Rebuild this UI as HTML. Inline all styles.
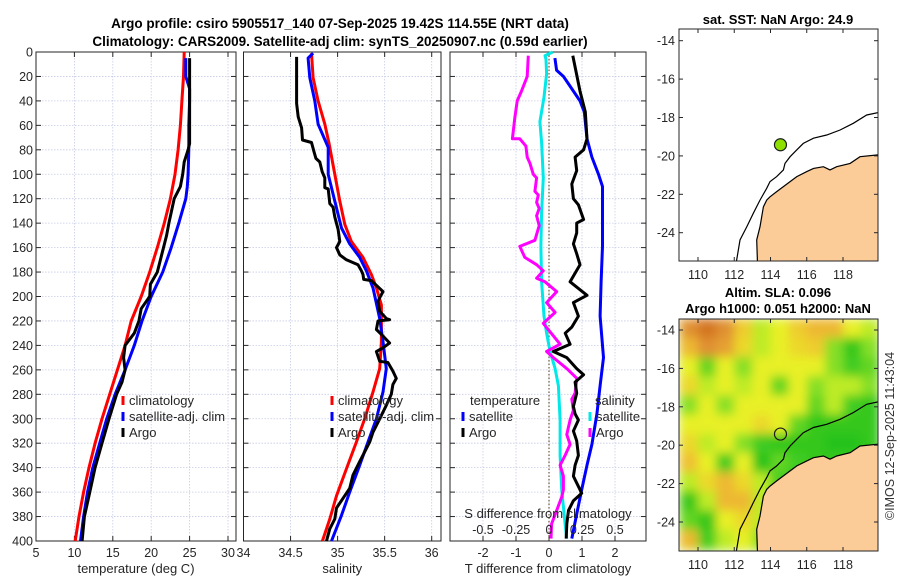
<!DOCTYPE html>
<html><head><meta charset="utf-8"><style>
html,body{margin:0;padding:0;background:#fff;}
svg{display:block;font-family:"Liberation Sans",sans-serif;}
</style></head><body>
<svg id="fig" width="900" height="580" viewBox="0 0 900 580" xmlns="http://www.w3.org/2000/svg">
<defs><filter id="blur" x="0" y="0" width="1" height="1"><feGaussianBlur stdDeviation="5"/></filter>
<clipPath id="clipMapB"><rect x="679" y="319" width="199" height="232"/></clipPath>
<clipPath id="clipMapA"><rect x="679" y="29" width="199" height="232"/></clipPath></defs>
<text x="340" y="28" text-anchor="middle" font-size="13.5" font-weight="bold">Argo profile: csiro 5905517_140 07-Sep-2025 19.42S 114.55E (NRT data)</text>
<text x="340" y="46" text-anchor="middle" font-size="13.5" font-weight="bold">Climatology: CARS2009. Satellite-adj clim: synTS_20250907.nc (0.59d earlier)</text>
<text x="778" y="24" text-anchor="middle" font-size="13" font-weight="bold">sat. SST: NaN Argo: 24.9</text>
<text x="778" y="297" text-anchor="middle" font-size="13" font-weight="bold">Altim. SLA: 0.096</text>
<text x="778" y="313" text-anchor="middle" font-size="13" font-weight="bold">Argo h1000: 0.051 h2000: NaN</text>
<text transform="translate(894,436) rotate(-90)" text-anchor="middle" font-size="12.5" fill="#333">©IMOS 12-Sep-2025 11:43:04</text>
<g id="layer"></g>
</svg>
<script>
// depth axis
const depthTicks=[0,20,40,60,80,100,120,140,160,180,200,220,240,260,280,300,320,340,360,380,400];
// temperature panel
const tTicks=[5,10,15,20,25,30];
const climTd=[0,20,40,60,80,100,120,140,160,180,200,220,240,260,280,300,320,340,360,380,400];
const climT=[24.3,24.2,24.0,23.8,23.5,23.1,22.5,21.7,20.8,19.8,18.7,17.4,16.6,15.6,14.6,13.6,12.7,11.9,11.2,10.6,10.1];
const satTd=[5,20,30,40,60,80,100,110,120,140,160,180,200,220,240,260,280,300,320,340,360,380,400];
const satT=[24.5,24.5,25.0,25.0,24.9,24.9,24.8,24.7,24.5,23.6,22.6,21.5,20.0,18.8,17.8,16.6,15.3,14.2,13.3,12.4,11.7,11.2,10.8];
const argoTd=[5,20,40,60,75,80,90,100,110,120,140,150,160,180,190,200,210,220,230,240,250,260,270,280,300,320,340,360,380,400];
const argoT=[25.0,25.0,25.0,25.0,25.0,24.8,24.3,24.1,23.8,23.0,22.3,22.0,21.6,20.8,19.9,19.8,18.7,18.4,17.8,16.6,16.4,16.6,16.2,15.5,14.5,13.6,12.7,12.0,11.3,11.0];
// salinity panel
const sTicks=[34,34.5,35,35.5,36];
const climSd=[1,21,40,59,75,100,122,141,155,168,182,193,207,237,259,278,300,319,341,363,382,400];
const climS=[34.723,34.740,34.793,34.864,34.910,34.970,35.023,35.076,35.147,35.270,35.359,35.412,35.465,35.465,35.447,35.376,35.288,35.2,35.094,34.988,34.917,34.839];
const satSd=[1,5,21,40,59,78,100,122,144,157,168,179,193,218,237,259,278,300,319,338,360,379,400];
const satS=[34.740,34.687,34.705,34.758,34.793,34.9,34.9,34.97,35.041,35.129,35.235,35.306,35.376,35.447,35.482,35.518,35.482,35.412,35.323,35.235,35.129,35.041,34.935];
const argoSd=[4,42,53,62,72,74,81,87,90,98,103,111,112,124,127,135,145,155,160,166,170,174,179,182,186,187,196,201,204,212,218,219,220,227,231,238,242,245,253,254,261,267,272,280,289,300,311,319,327,335,346,357,365,373,382,390,400];
const argoS=[34.564,34.564,34.581,34.617,34.627,34.723,34.747,34.769,34.811,34.836,34.864,34.864,34.9,34.917,34.952,34.97,35.005,35.023,34.988,35.023,35.094,35.217,35.253,35.27,35.277,35.359,35.482,35.447,35.429,35.447,35.518,35.553,35.429,35.412,35.465,35.553,35.482,35.412,35.447,35.535,35.588,35.624,35.588,35.571,35.518,35.447,35.376,35.341,35.288,35.235,35.164,35.129,35.058,34.988,34.97,34.917,34.882];
// difference panel
const dTicks=[-2,-1,0,1,2];
const sdTicks=[-0.5,-0.25,0,0.25,0.5];
const sdTickLabels=["-0.5","-0.25","0","0.25","0.5"];
const satDTd=[5,15,20,32,40,49,71,86,100,110,159,188,216,250,273,296,321,338,358,378,398];
const satDT=[0.18,0.23,0.44,0.74,0.94,1.07,1.15,1.30,1.50,1.62,1.62,1.58,1.55,1.65,1.55,1.45,1.30,1.15,0.99,0.84,0.69];
const argoDTd=[3,32,49,71,80,86,97,108,120,125,137,140,148,157,165,174,188,199,205,216,225,230,239,245,250,259,264,270,279,290,296,301,310,318,330,338,347,358,361,367,375,386,398];
const argoDT=[0.72,0.94,1.10,1.15,1.05,0.79,0.84,0.69,0.74,0.89,1.05,0.84,0.84,0.74,0.84,0.94,0.64,1.15,0.74,0.89,0.69,0.49,0.64,0.13,0.54,0.84,1.05,0.79,0.84,0.74,0.79,0.89,0.74,0.84,0.89,0.79,0.74,0.94,0.99,0.74,0.59,0.54,0.52];
const satDSd=[0,3,6,18,37,57,74,103,131,159,188,216,230,245,259,273,301,330,358,386,398];
const satDS=[0.028,-0.03,-0.023,-0.018,-0.038,-0.069,-0.056,-0.043,-0.056,-0.061,-0.056,-0.038,-0.018,0.008,0.046,0.071,0.084,0.084,0.096,0.122,0.134];
const argoDSd=[3,20,32,40,54,71,71,77,86,91,100,103,114,117,123,128,134,142,154,159,168,174,179,185,188,196,205,213,222,239,245,250,259,267,279,284,293,301,307,313,321,330,338,347,358,364,375,386,398];
const argoDS=[-0.157,-0.165,-0.208,-0.241,-0.259,-0.277,-0.221,-0.175,-0.165,-0.145,-0.119,-0.094,-0.107,-0.081,-0.094,-0.074,-0.094,-0.074,-0.107,-0.221,-0.183,-0.094,-0.043,-0.094,-0.030,0.058,-0.018,0.046,-0.043,0.084,-0.018,0.033,0.135,0.211,0.198,0.173,0.185,0.160,0.147,0.135,0.160,0.122,0.084,0.109,0.109,0.096,0.058,0.020,0.015];
// maps
const lonTicks=[110,112,114,116,118];
const latTicks=[-14,-16,-18,-20,-22,-24];
const argoLon=114.55, argoLat=-19.42;
const landLon=[119.93,118.94,118.39,117.65,117.28,116.92,116.37,116.0,115.45,115.08,114.71,114.34,113.97,113.79,113.61,113.42,113.24,113.28,120.2,120.2];
const landLat=[-19.95,-20.04,-20.39,-20.56,-20.73,-20.56,-20.65,-20.82,-21.08,-21.34,-21.6,-21.86,-22.13,-22.3,-22.65,-23.69,-24.38,-25.6,-25.6,-19.95];
const shelfLon=[120.0,119.31,118.57,117.84,117.1,116.37,115.81,115.44,115.08,114.8,114.71,114.34,113.97,113.79,113.42,113.05,112.69,112.32,112.1];
const shelfLat=[-17.73,-17.87,-18.3,-18.65,-18.91,-19.08,-19.35,-19.7,-20.04,-20.39,-20.73,-21.08,-21.34,-21.69,-22.3,-22.99,-23.69,-24.38,-25.6];
const slaLon=[109.5,110.5,111.5,112.5,113.5,114.5,115.5,116.5,117.5,118.5,119.5];
const slaLat=[-13.9,-14.9,-15.9,-16.9,-17.9,-18.9,-19.9,-20.9,-21.9,-22.9,-23.9,-24.9];
const slaRow0=[0.2,0.25,0.2,0.13,0.08,0.1,0.13,0.15,0.15,0.1,0.08];
const slaRow1=[0.15,0.2,0.18,0.12,0.08,0.1,0.12,0.13,0.06,0.03,0.06];
const slaRow2=[0.1,0.05,0.1,0.06,0.1,0.1,0.1,0.1,0.06,0.04,0.05];
const slaRow3=[0.12,0.08,0.1,0.08,0.1,0.05,0.1,0.06,0.08,0.08,0.06];
const slaRow4=[0.06,0.1,0.06,0.1,0.1,0.1,0.1,0.05,0.08,0.04,0.03];
const slaRow5=[0.1,0.1,0.1,0.1,0.12,0.1,0.05,0.03,0.03,0.03,0.03];
const slaRow6=[0.12,0.08,0.1,0.06,0.04,0.03,0.03,0.03,0.02,0.02,0.03];
const slaRow7=[0.14,0.1,0.04,0.1,0.02,0.05,0.04,0.03,0.03,0.03,0.03];
const slaRow8=[0.08,0.12,0.15,0.12,0.08,0.04,0.03,0.03,0.03,0.03,0.03];
const slaRow9=[0.03,0.08,0.15,0.15,0.08,0.03,0.03,0.03,0.03,0.03,0.03];
const slaRow10=[0.05,0.03,0.1,0.12,0.08,0.03,0.03,0.03,0.03,0.03,0.03];
const slaRow11=[0.15,0.04,0.08,0.1,0.06,0.03,0.03,0.03,0.03,0.03,0.03];
const slaRows=[slaRow0,slaRow1,slaRow2,slaRow3,slaRow4,slaRow5,slaRow6,slaRow7,slaRow8,slaRow9,slaRow10,slaRow11];

const NS='http://www.w3.org/2000/svg';
const layer=document.getElementById('layer');
function mk(tag,attrs,parent){const e=document.createElementNS(NS,tag);for(const k in attrs)e.setAttribute(k,attrs[k]);(parent||layer).appendChild(e);return e;}
const yTop=52,yBot=541;
const yD=d=>yTop+d/400*(yBot-yTop);
function linX(v0,p0,v1,p1){return v=>p0+(v-v0)/(v1-v0)*(p1-p0);}

function panel(name,L,R,xs,ticks,tickLabels,showY,xlabel){
  const g=mk('g',{});
  
  
  // grid
  depthTicks.forEach(d=>{mk('line',{x1:L,x2:R,y1:yD(d),y2:yD(d),stroke:'#c6cce6','stroke-width':0.8,'stroke-dasharray':'1.5,1.5'},g);});
  ticks.forEach(t=>{mk('line',{x1:xs(t),x2:xs(t),y1:yTop,y2:yBot,stroke:'#c6cce6','stroke-width':0.8,'stroke-dasharray':'1.5,1.5'},g);});
  mk('rect',{x:L,y:yTop,width:R-L,height:yBot-yTop,fill:'none',stroke:'#262626','stroke-width':1},g);
  depthTicks.forEach(d=>{
    mk('line',{x1:L,x2:L+5,y1:yD(d),y2:yD(d),stroke:'#262626'},g);
    mk('line',{x1:R-5,x2:R,y1:yD(d),y2:yD(d),stroke:'#262626'},g);
    if(showY){const t=mk('text',{x:L-3,y:yD(d)+4.5,'text-anchor':'end','font-size':12.5,fill:'#262626'},g);t.textContent=d;
      
      }
  });
  ticks.forEach((v,i)=>{
    mk('line',{x1:xs(v),x2:xs(v),y1:yBot,y2:yBot-5,stroke:'#262626'},g);
    mk('line',{x1:xs(v),x2:xs(v),y1:yTop,y2:yTop+5,stroke:'#262626'},g);
    const t=mk('text',{x:xs(v),y:557,'text-anchor':'middle','font-size':12.5,fill:'#262626'},g);t.textContent=tickLabels[i];
    
    
  });
  const xl=mk('text',{x:(L+R)/2,y:573,'text-anchor':'middle','font-size':13,fill:'#262626'},g);xl.textContent=xlabel;
  
  
  return g;
}
function line(g,xs,vals,ds,color,name,sw){
  const pts=vals.map((v,i)=>xs(v).toFixed(1)+','+yD(ds[i]).toFixed(1)).join(' ');
  const p=mk('polyline',{points:pts,fill:'none',stroke:color,'stroke-width':sw||3,'stroke-linejoin':'round'},g);
  
  
}
function legend(g,x,y,color,label){
  mk('rect',{x:x-1.5,y:y-9,width:3,height:9,fill:color},g);
  const t=mk('text',{x:x+6,y:y,'font-size':13,fill:'#262626'},g);t.textContent=label;
  
  
}
// panel 1
const xT=linX(5,36,30,228);
const g1=panel('temperature',36,236,xT,tTicks,tTicks.map(String),true,'temperature (deg C)');
line(g1,xT,climT,climTd,'#ff0000','climatology-temperature-line');
line(g1,xT,satT,satTd,'#0000ff','satellite-temperature-line');
line(g1,xT,argoT,argoTd,'#000000','argo-temperature-line');
legend(g1,123,405,'#ff0000','climatology');legend(g1,123,421,'#0000ff','satellite-adj. clim');legend(g1,123,437,'#000000','Argo');
// panel 2
const xS=linX(34,243.5,36,431.7);
const g2=panel('salinity',243.5,441,xS,sTicks,sTicks.map(String),false,'salinity');
line(g2,xS,climS,climSd,'#ff0000','climatology-salinity-line');
line(g2,xS,satS,satSd,'#0000ff','satellite-salinity-line');
line(g2,xS,argoS,argoSd,'#000000','argo-salinity-line');
legend(g2,332,405,'#ff0000','climatology');legend(g2,332,421,'#0000ff','satellite-adj. clim');legend(g2,332,437,'#000000','Argo');
// panel 3
const xD=linX(0,549,1,582);
const xSD=v=>xD(v*4);
const g3=panel('difference',450,646,xD,dTicks,dTicks.map(String),false,'T difference from climatology');
mk('line',{x1:xD(0),x2:xD(0),y1:yTop,y2:yBot,stroke:'#6b5a3a','stroke-width':1.2,'stroke-dasharray':'1.5,2'},g3);
line(g3,xD,satDT,satDTd,'#0000ff','satellite-temperature-diff-line');
line(g3,xSD,satDS,satDSd,'#00e8e8','satellite-salinity-diff-line');
line(g3,xSD,argoDS,argoDSd,'#ff00ff','argo-salinity-diff-line');
line(g3,xD,argoDT,argoDTd,'#000000','argo-temperature-diff-line');
{const t=mk('text',{x:470,y:405,'font-size':13,fill:'#262626'},g3);t.textContent='temperature';

}
{const t=mk('text',{x:595,y:405,'font-size':13,fill:'#262626'},g3);t.textContent='salinity';

}
legend(g3,463,421,'#0000ff','satellite');legend(g3,463,437,'#000000','Argo');
legend(g3,590,421,'#00e8e8','satellite');legend(g3,590,437,'#ff00ff','Argo');
{const t=mk('text',{x:548,y:518,'text-anchor':'middle','font-size':13,fill:'#262626'},g3);t.textContent='S difference from climatology';

}
sdTicks.forEach((v,i)=>{const t=mk('text',{x:xSD(v),y:534,'text-anchor':'middle','font-size':12.5,fill:'#262626'},g3);t.textContent=sdTickLabels[i];

});

// maps
const mLon=linX(110,698,118,843);
function mapFrame(name,top,latY,clip,fillSea){
  const g=mk('g',{});
  
  
  const inner=mk('g',{'clip-path':'url(#'+clip+')'},g);
  if(fillSea){
    const hm=mk('g',{filter:'url(#blur)'},inner);
    mk('rect',{x:679,y:top,width:199,height:232,fill:'#c8ee30'},hm);
    slaRows.forEach((row,r)=>row.forEach((v,c)=>{
      const x0=mLon(slaLon[c]-0.5),x1=mLon(slaLon[c]+0.5),y0=latY(slaLat[r]+0.5),y1=latY(slaLat[r]-0.5);
      const cell=mk('rect',{x:x0.toFixed(1),y:y0.toFixed(1),width:(x1-x0+0.5).toFixed(1),height:(y1-y0+0.5).toFixed(1),fill:slaColor(v)},hm);
      
      
    }));
  }
  const land=mk('polygon',{points:landLon.map((lo,i)=>mLon(lo).toFixed(1)+','+latY(landLat[i]).toFixed(1)).join(' '),fill:'#fbcb98',stroke:'#000','stroke-width':1.2},inner);
  
  
  const sh=mk('polyline',{points:shelfLon.map((lo,i)=>mLon(lo).toFixed(1)+','+latY(shelfLat[i]).toFixed(1)).join(' '),fill:'none',stroke:'#000','stroke-width':1.2},inner);
  
  
  mk('rect',{x:679,y:top,width:199,height:232,fill:'none',stroke:'#262626'},g);
  latTicks.forEach(la=>{
    mk('line',{x1:679,x2:683,y1:latY(la),y2:latY(la),stroke:'#262626'},g);
    mk('line',{x1:874,x2:878,y1:latY(la),y2:latY(la),stroke:'#262626'},g);
    const t=mk('text',{x:675,y:latY(la)+4.5,'text-anchor':'end','font-size':12.5,fill:'#262626'},g);t.textContent=la;
    
    
  });
  lonTicks.forEach(lo=>{
    mk('line',{x1:mLon(lo),x2:mLon(lo),y1:top+232,y2:top+228,stroke:'#262626'},g);
    mk('line',{x1:mLon(lo),x2:mLon(lo),y1:top,y2:top+4,stroke:'#262626'},g);
    const t=mk('text',{x:mLon(lo),y:top+250,'text-anchor':'middle','font-size':12.5,fill:'#262626'},g);t.textContent=lo;
    
    
  });
  const pt=mk('circle',{cx:mLon(argoLon),cy:latY(argoLat),r:6,fill:fillSea?'none':'#8ee000',stroke:'#1a1a1a','stroke-width':1.2},g);
  
  
}
function slaColor(v){
  const st=[[0,[16,184,24]],[0.04,[64,204,32]],[0.07,[168,232,40]],[0.1,[232,240,40]],[0.14,[240,192,48]],[0.2,[224,144,48]],[0.26,[208,112,32]]];
  if(v<=st[0][0])return 'rgb('+st[0][1]+')';
  for(let i=1;i<st.length;i++){if(v<=st[i][0]){const f=(v-st[i-1][0])/(st[i][0]-st[i-1][0]);const a=st[i-1][1],b=st[i][1];return 'rgb('+a.map((x,j)=>Math.round(x+(b[j]-x)*f)).join(',')+')';}}
  return 'rgb('+st[st.length-1][1]+')';
}
mapFrame('sst-map',29,la=>40.7+(-14-la)*19.2,'clipMapA',false);
mapFrame('sla-map',319,la=>330+(-14-la)*19.2,'clipMapB',true);
</script>
</body></html>
